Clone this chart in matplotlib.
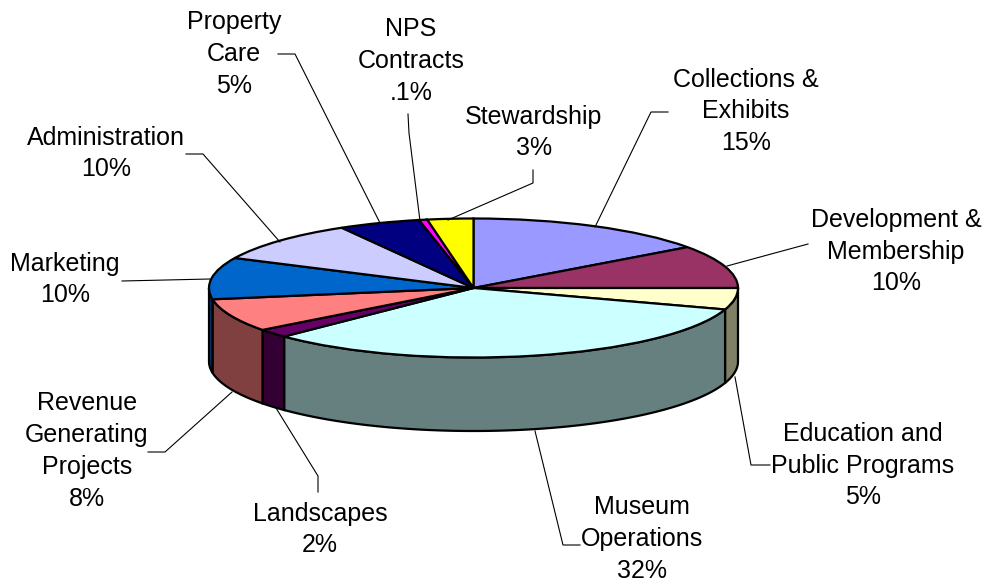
import matplotlib
matplotlib.use("Agg")
import matplotlib.pyplot as plt
import numpy as np
from matplotlib.patches import Polygon

names = ["Collections &\nExhibits", "Development &\nMembership", "Education and\nPublic Programs",
         "Museum\nOperations", "Landscapes", "Revenue\nGenerating\nProjects", "Marketing",
         "Administration", "Property\nCare", "NPS\nContracts", "Stewardship"]
pct_labels = ["15%", "10%", "5%", "32%", "2%", "8%", "10%", "10%", "5%", ".1%", "3%"]
# slice sizes (they differ a bit from the printed labels)
values = [15, 10, 5, 32.7, 2, 7.7, 9.7, 9.6, 5.0, 0.5, 2.8]
colors = ["#9999FF", "#993366", "#FFFFCC", "#CCFFFF", "#660066", "#FF8080",
          "#0066CC", "#CCCCFF", "#000080", "#FF00FF", "#FFFF00"]

# layout in image pixels
W, H = 985, 583
cx, cy = 473.5, 288
rx, ry = 264.5, 69.5
depth = 73.5

label_pos = [(746, 111.5), (896, 251.5), (863, 465.5), (642, 539), (320, 529.5), (87, 451),
             (65, 279.5), (106, 153.5), (234, 54), (411, 61), (534, 132.5)]
leaders = [
    [(668, 112), (651, 112), (595, 227)],
    [(808, 244), (727, 266)],
    [(770, 465), (751, 465), (735, 377)],
    [(580, 545), (563, 545), (535, 431)],
    [(318, 492), (318, 476), (276, 408)],
    [(148, 452), (165, 452), (232, 392)],
    [(122, 281), (210, 279)],
    [(186, 154), (203, 154), (280, 242)],
    [(278, 54), (295, 54), (380, 223)],
    [(408, 114), (409, 133), (420, 221)],
    [(533, 170), (533, 183), (448, 220)],
]

plt.rcParams["font.family"] = ["Liberation Sans", "DejaVu Sans"]

fig = plt.figure(figsize=(W / 100, H / 100), dpi=100)
ax = fig.add_axes([0, 0, 1, 1])

# side walls first, only the front half of the rim shows
edges = np.cumsum([0] + values) / sum(values) * 360
d = depth / ry
for i, col in enumerate(colors):
    a0, a1 = edges[i], edges[i + 1]
    a0, a1 = max(a0, 90), min(a1, 270)
    if a1 <= a0:
        continue
    th = np.radians(np.linspace(a0, a1, 80))
    x, y = np.sin(th), np.cos(th)
    pts = np.r_[np.c_[x, y], np.c_[x[::-1], y[::-1] - d]]
    rgb = np.array(matplotlib.colors.to_rgb(col)) * 0.5
    ax.add_patch(Polygon(pts, closed=True, facecolor=rgb, edgecolor="black", lw=1.6, zorder=0.5))

ax.pie(values, colors=colors, startangle=90, counterclock=False, radius=1,
       wedgeprops={"edgecolor": "black", "linewidth": 1.6})
ax.set_aspect("auto")
ax.set_xlim(-cx / rx, (W - cx) / rx)
ax.set_ylim((cy - H) / ry, cy / ry)
ax.axis("off")

# labels and leader lines in pixel coordinates
over = fig.add_axes([0, 0, 1, 1], facecolor="none")
over.set_xlim(0, W)
over.set_ylim(H, 0)
over.axis("off")
for pts in leaders:
    xs, ys = zip(*pts)
    over.plot(xs, ys, color="black", lw=0.8, solid_joinstyle="miter")
for name, pct, (tx, ty) in zip(names, pct_labels, label_pos):
    over.text(tx, ty, name + "\n" + pct, ha="center", va="center", multialignment="center",
              fontsize=18, linespacing=1.42, color="black")

fig.savefig("out.png", dpi=100, facecolor="white")
